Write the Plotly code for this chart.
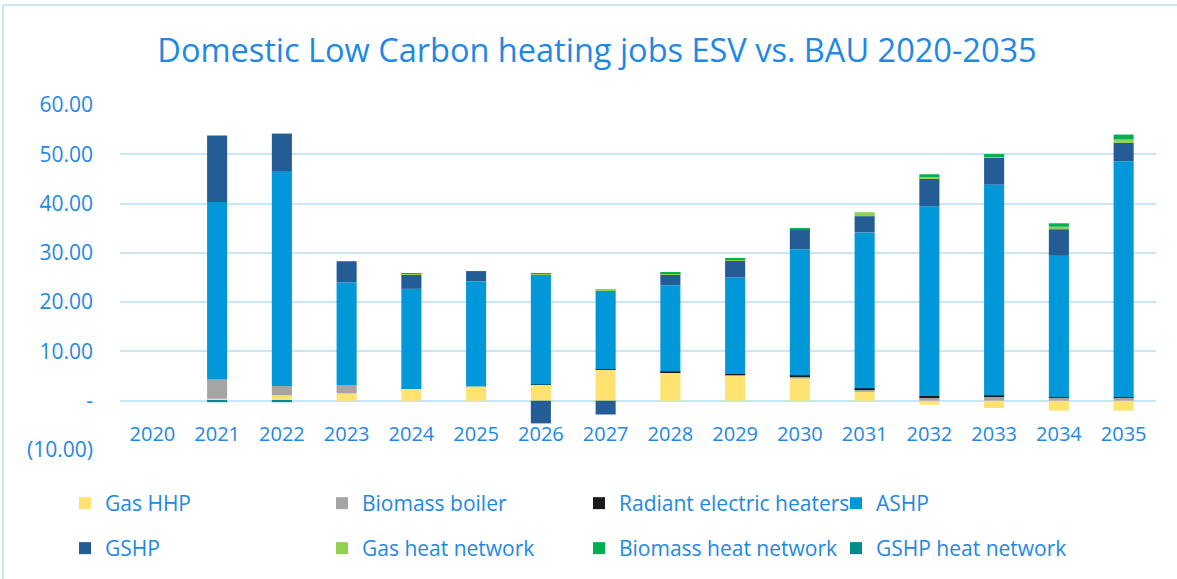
import plotly.graph_objects as go

years = [str(y) for y in range(2020, 2036)]

gas_hhp = [0, 0.4, 1.1, 1.5, 2.4, 2.9, 3.2, 6.3, 5.7, 5.2, 4.5, 1.8, -0.8, -1.5, -2.0, -2.0]
biomass_boiler = [0, 3.9, 1.9, 1.7, 0, 0, 0, 0, 0.1, 0.1, 0.5, 0.5, 0.7, 0.8, 0.6, 0.6]
radiant_electric = [0, 0, 0, 0, 0, 0, 0.1, 0.1, 0.15, 0.1, 0.15, 0.25, 0.25, 0.25, 0.1, 0.1]
ashp = [0, 36.0, 43.6, 20.8, 20.3, 21.3, 22.3, 15.9, 17.5, 19.6, 25.6, 31.6, 38.5, 42.8, 28.7, 47.9]
gshp = [0, 13.5, 7.6, 4.3, 2.9, 2.1, -4.6, -2.8, 2.2, 3.4, 3.9, 3.3, 5.7, 5.4, 5.4, 3.7]
gas_heat_network = [0, 0, 0, 0, 0.15, 0, 0.2, 0.2, 0.2, 0.3, 0.1, 0.8, 0.4, 0.4, 0.5, 0.7]
biomass_heat_network = [0, 0, 0, 0, 0.1, 0, 0.1, 0, 0.1, 0.1, 0.3, 0, 0.4, 0.4, 0.7, 1.0]
gshp_heat_network = [0, -0.3, -0.3, 0, 0, 0, 0, 0, 0, 0, 0, 0, 0, 0, 0, 0]

y_ticks = [-10, 0, 10, 20, 30, 40, 50, 60]
y_tick_text = ["(10.00)", "-", "10.00", "20.00", "30.00", "40.00", "50.00", "60.00"]

series = [
    ("Gas HHP", gas_hhp, "#FFE26F"),
    ("Biomass boiler", biomass_boiler, "#A5A5A5"),
    ("Radiant electric heaters", radiant_electric, "#1A1A1A"),
    ("ASHP", ashp, "#0098D9"),
    ("GSHP", gshp, "#245C96"),
    ("Gas heat network", gas_heat_network, "#92D050"),
    ("Biomass heat network", biomass_heat_network, "#00B050"),
    ("GSHP heat network", gshp_heat_network, "#008C8C"),
]

TEXT = "#1E88E5"
GRID = "#C9E5F8"
FONT = "Open Sans"

W, H = 1177, 579
ML, MR, MT, MB = 120, 21, 105, 129

pw = W - ML - MR
ph = H - MT - MB


def px_x(px):
    return (px - ML) / pw


def px_y(py):
    return (H - MB - py) / ph


fig = go.Figure()
for i, (name, vals, color) in enumerate(series):
    # first four entries on the upper legend row, the rest on the lower one
    fig.add_trace(go.Bar(x=years, y=vals, name=name, marker_color=color,
                         marker_line_width=0,
                         legend="legend" if i < 4 else "legend2"))

y_min, y_max = -10, 60
zero_pos = (0 - y_min) / (y_max - y_min)

# outer chart frame (top and left edges)
fig.add_shape(type="line", xref="paper", yref="paper",
              x0=px_x(3), x1=px_x(1177), y0=px_y(5), y1=px_y(5),
              line=dict(color=GRID, width=2))
fig.add_shape(type="line", xref="paper", yref="paper",
              x0=px_x(3), x1=px_x(3), y0=px_y(5), y1=px_y(579),
              line=dict(color=GRID, width=2))

legend_common = dict(orientation="h", xanchor="left", yanchor="top",
                     entrywidth=212, entrywidthmode="pixels",
                     font=dict(size=21, color=TEXT), traceorder="normal",
                     itemwidth=30, bgcolor="rgba(0,0,0,0)")

fig.update_layout(
    width=W, height=H,
    margin=dict(l=ML, r=MR, t=MT, b=MB, autoexpand=False),
    paper_bgcolor="white", plot_bgcolor="white",
    barmode="relative", bargap=0.69,
    font=dict(family=FONT, color=TEXT, size=18),
    title=dict(text="Domestic Low Carbon heating jobs ESV vs. BAU 2020-2035",
               x=597 / W, xref="container", xanchor="center",
               y=1 - 51 / H, yref="container", yanchor="middle",
               font=dict(family=FONT, size=32.5, color=TEXT)),
    xaxis=dict(anchor="free", position=zero_pos, showgrid=False, showline=False,
               zeroline=False, ticks="", tickfont=dict(size=20, color=TEXT),
               ticklabelstandoff=19),
    yaxis=dict(range=[y_min, y_max], tickvals=y_ticks, ticktext=y_tick_text,
               showgrid=True, gridcolor=GRID, gridwidth=2,
               zeroline=True, zerolinecolor=GRID, zerolinewidth=2,
               tickfont=dict(size=21, color=TEXT), ticklabelstandoff=26),
    legend=dict(x=px_x(65), y=px_y(483), **legend_common),
    legend2=dict(x=px_x(65), y=px_y(528), **legend_common),
    showlegend=True,
)

fig.write_html("out.html")
